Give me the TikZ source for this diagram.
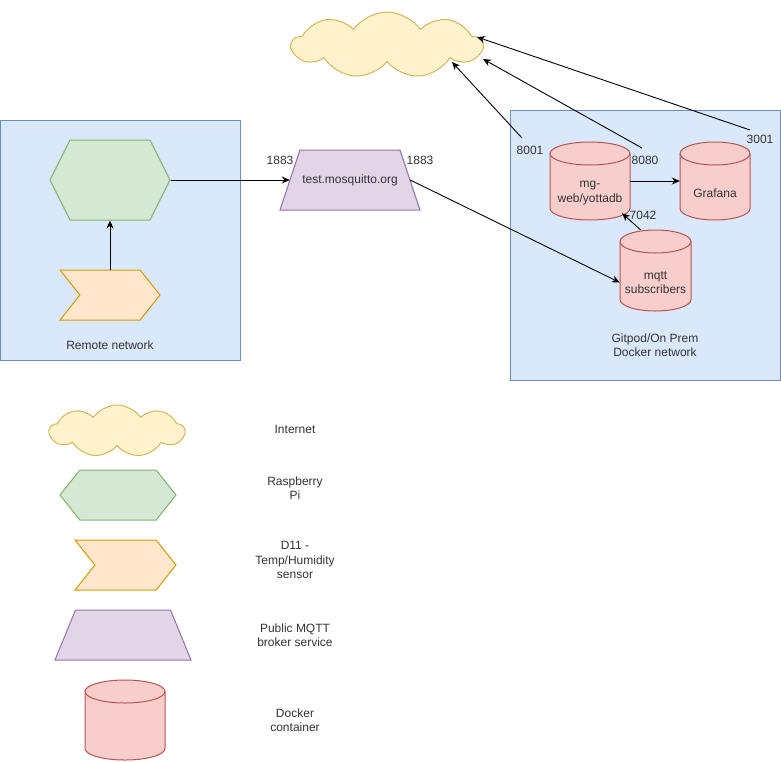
\documentclass[tikz,border=0pt]{standalone}
\usepackage{fontspec}
\setmainfont{Liberation Sans}
\usetikzlibrary{arrows.meta,positioning,shapes.symbols}

\definecolor{netfill}{HTML}{DAE8FC}
\definecolor{netline}{HTML}{6C8EBF}
\definecolor{cloudfill}{HTML}{FFF2CC}
\definecolor{cloudline}{HTML}{D6B656}
\definecolor{pifill}{HTML}{D5E8D4}
\definecolor{piline}{HTML}{82B366}
\definecolor{sensfill}{HTML}{FFE6CC}
\definecolor{sensline}{HTML}{D79B00}
\definecolor{brokfill}{HTML}{E1D5E7}
\definecolor{brokline}{HTML}{9673A6}
\definecolor{dockfill}{HTML}{F8CECC}
\definecolor{dockline}{HTML}{B85450}

% docker container drawn as a cylinder: x, y, width, height, name, text
\newcommand{\dockcyl}[6]{%
  \filldraw[draw=dockline, fill=dockfill, line width=1pt]
    ({#1-#3/2},{#2-#4/2+11.5}) -- ({#1-#3/2},{#2+#4/2-11.5})
    arc[start angle=180, end angle=360, x radius={#3*0.5pt}, y radius=11.5pt]
    -- ({#1+#3/2},{#2-#4/2+11.5})
    arc[start angle=0, end angle=180, x radius={#3*0.5pt}, y radius=11.5pt] -- cycle;
  \draw[draw=dockline, line width=1pt] ({#1-#3/2},{#2-#4/2+11.5})
    arc[start angle=180, end angle=360, x radius={#3*0.5pt}, y radius=11.5pt];
  \node[minimum width=#3, minimum height=#4, label={[yshift=-12pt]center:#6}] (#5) at (#1,#2) {};
}

% broker drawn as a trapezoid: x, y, top width, bottom width, height, name, text
\newcommand{\brokshape}[7]{%
  \filldraw[draw=brokline, fill=brokfill, line width=1pt]
    ({#1-#3/2},{#2-#5/2}) -- ({#1+#3/2},{#2-#5/2})
    -- ({#1+#4/2},{#2+#5/2}) -- ({#1-#4/2},{#2+#5/2}) -- cycle;
  \node[minimum width={(#3+#4)/2}, minimum height=#5] (#6) at (#1,#2) {#7};
}

\begin{document}
\begin{tikzpicture}[x=1pt, y=-1pt,
  font=\fontsize{12}{14.5}\selectfont,
  every node/.style={inner sep=0pt, align=center, text=black!80},
  netbox/.style={draw=netline, fill=netfill, line width=1pt},
  inet/.style={cloud, cloud puffs=9, cloud puff arc=110, aspect=2.9, inner sep=2pt, draw=cloudline, fill=cloudfill, line width=1pt},
  rpi/.style={signal, signal to=east and west, inner sep=2pt, draw=piline, fill=pifill, line width=1pt},
  sensor/.style={signal, signal to=east, signal from=west, signal pointer angle=103, inner sep=2pt, draw=sensline, fill=sensfill, line width=1pt},
  conn/.style={-{Stealth[length=8pt,width=7pt]}, line width=0.9pt}]
  \useasboundingbox (0,0) rectangle (781,761);

  % network boxes
  \draw[netbox] (0,120) rectangle (240,360);
  \draw[netbox] (510,110) rectangle (780,380);
  \node (remote) at (110,345) {Remote network};
  \node (dock) at (655,345) {Gitpod/On Prem\\Docker network};

  % diagram
  \node[inet, minimum width=190, minimum height=66] (inet) at (387,45) {};
  \node[rpi, signal pointer angle=127, minimum width=120, minimum height=80] (pi) at (110,180) {};
  \node[sensor, minimum width=100, minimum height=50] (dht) at (110,295) {};
  \brokshape{350}{180}{100}{140}{60}{broker}{test.mosquitto.org}
  \dockcyl{590}{181}{80}{78}{mgweb}{mg-\\web/yottadb}
  \dockcyl{715}{181}{70}{78}{grafana}{Grafana}
  \dockcyl{655.5}{270.5}{71}{81}{mqtt}{mqtt\\subscribers}

  % port labels
  \node (p1883a) at (280,160) {1883};
  \node (p1883b) at (420,160) {1883};
  \node (p8001) at (530,150) {8001};
  \node (p8080) at (645,160) {8080};
  \node (p3001) at (760,139) {3001};
  \node (p7042) at (643,215) {7042};

  \coordinate (s8001) at (522,138);
  \coordinate (s8080) at (642,148);
  \coordinate (s3001) at (750,130);
  \coordinate (e8001) at (452,62);
  \coordinate (e8080) at (483,59);
  \coordinate (e3001) at (477,37);

  \draw[conn] (dht.north) -- (pi.south);
  \draw[conn] (pi.east) -- (broker.west);
  \draw[conn] (broker.east) -- ([yshift=-12pt]mqtt.west);
  \draw[conn] (mgweb.east) -- (grafana.west);
  \draw[conn] ([xshift=-15pt]mqtt.north) -- ([xshift=32pt,yshift=7pt]mgweb.south);
  \draw[conn] (s8001) -- (e8001);
  \draw[conn] (s8080) -- (e8080);
  \draw[conn] (s3001) -- (e3001);

  % legend
  \node[inet, minimum width=135, minimum height=52] (k-inet) at (117,431) {};
  \node[rpi, signal pointer angle=103, minimum width=116, minimum height=50] (k-pi) at (118,495) {};
  \node[sensor, minimum width=101, minimum height=50] (k-dht) at (125.5,565) {};
  \brokshape{123}{635}{95}{136}{50}{k-broker}{}
  \dockcyl{125}{720}{80}{80}{k-dock}{}

  \node (t-inet) at (295,429) {Internet};
  \node (t-pi) at (295,488) {Raspberry\\Pi};
  \node (t-dht) at (295,560) {D11 -\\Temp/Humidity\\sensor};
  \node (t-broker) at (295,635) {Public MQTT\\broker service};
  \node (t-dock) at (295,720) {Docker\\container};
\end{tikzpicture}
\end{document}
